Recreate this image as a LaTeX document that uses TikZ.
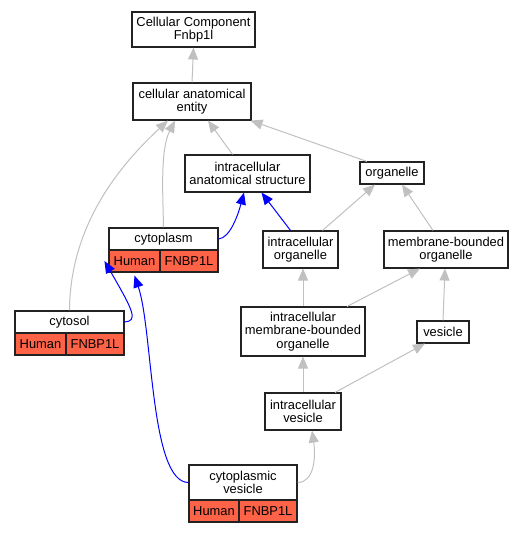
\documentclass[tikz,border=0pt]{standalone}
\usepackage{fontspec}
\setmainfont{Liberation Sans}
\usetikzlibrary{arrows.meta}
\definecolor{edgegray}{HTML}{C0C0C0}
\definecolor{cellred}{HTML}{FF6347}
\definecolor{boxline}{HTML}{222222}
\begin{document}
\begin{tikzpicture}[x=1pt,y=-1pt,
  lbl/.style={font=\fontsize{12.9}{13.4}\selectfont},
  gobox/.style={draw=boxline, line width=1.1pt, fill=white, inner sep=0pt, align=center, lbl},
  cellbox/.style={draw=boxline, line width=1.1pt, fill=cellred, inner sep=0pt, align=center, lbl, minimum height=22pt},
  isa/.style={draw=edgegray, line width=1pt, -{Triangle[length=12pt,width=10pt]}},
  part/.style={draw=blue, line width=1pt, -{Triangle[length=12pt,width=10pt]}}]
\useasboundingbox (0,0) rectangle (523,533);

% nodes
\node[gobox, minimum width=123pt, minimum height=35pt] (cc) at (193.5,29.5) {Cellular Component\\Fnbp1l};
\node[gobox, minimum width=118pt, minimum height=37pt] (cae) at (192,101.5) {cellular anatomical\\entity};
\node[gobox, minimum width=125pt, minimum height=37pt] (ias) at (247.5,173.5) {intracellular\\anatomical structure};
\node[gobox, minimum width=64pt, minimum height=22pt] (org) at (392,173) {organelle};
\node[gobox, minimum width=109pt, minimum height=22pt] (cyto) at (163.5,239) {cytoplasm};
\node[cellbox, minimum width=51pt] (cytoH) at (134.5,261) {Human};
\node[cellbox, minimum width=58pt] (cytoF) at (189,261) {FNBP1L};
\node[gobox, minimum width=75pt, minimum height=37pt] (io) at (300.5,249.5) {intracellular\\organelle};
\node[gobox, minimum width=124pt, minimum height=37pt] (mbo) at (446,249.5) {membrane-bounded\\organelle};
\node[gobox, minimum width=109pt, minimum height=22pt] (cytosol) at (69.5,322) {cytosol};
\node[cellbox, minimum width=51pt] (csH) at (40.5,344) {Human};
\node[cellbox, minimum width=58pt] (csF) at (95,344) {FNBP1L};
\node[gobox, minimum width=124pt, minimum height=49pt] (imbo) at (303,331.5) {intracellular\\membrane-bounded\\organelle};
\node[gobox, minimum width=52pt, minimum height=22pt] (ves) at (443,332) {vesicle};
\node[gobox, minimum width=76pt, minimum height=37pt] (iv) at (303,411.5) {intracellular\\vesicle};
\node[gobox, minimum width=108pt, minimum height=35pt] (cv) at (243,482.5) {cytoplasmic\\vesicle};
\node[cellbox, minimum width=50pt] (cvH) at (214,511) {Human};
\node[cellbox, minimum width=58pt] (cvF) at (268,511) {FNBP1L};

% gray is_a edges
\draw[isa] (cae.north) -- (cc.south);
\draw[isa] ([xshift=-15pt]ias.north) -- ([xshift=16pt]cae.south);
\draw[isa] ([xshift=-25pt]org.north) -- ([xshift=-1pt]cae.south east);
\draw[isa] (cyto.north) .. controls (163,195) and (160,150) .. ([xshift=-17pt]cae.south);
\draw[isa] (cytosol.north) .. controls (70,225) and (120,165) .. ([xshift=-24pt]cae.south);
\draw[isa] ([xshift=22pt]io.north) -- ([xshift=-17pt]org.south);
\draw[isa] ([xshift=-13pt]mbo.north) -- ([xshift=10pt]org.south);
\draw[isa] (imbo.north) -- (imbo.north |- io.south);
\draw[isa] ([xshift=44pt]imbo.north) -- ([xshift=-26pt]mbo.south);
\draw[isa] (ves.north) -- ([xshift=-1pt]mbo.south);
\draw[isa] (iv.north) -- (imbo.south);
\draw[isa] ([xshift=32pt]iv.north) -- ([xshift=-18pt]ves.south);
\draw[isa] (cv.east) .. controls (314,482.5) and (316,458) .. ([xshift=9pt]iv.south);

% blue part_of edges
\draw[part] ([xshift=-10pt]io.north) -- ([xshift=14pt]ias.south);
\draw[part] (cyto.east) .. controls (230,238) and (238,215) .. ([xshift=-3.5pt]ias.south);
\draw[part] (cytosol.east) .. controls (138,321) and (134,312) .. ([xshift=-4pt]cytoH.west);
\draw[part] (cv.west) .. controls (150,482.5) and (153,330) .. ([yshift=-3pt]cytoH.south);
\end{tikzpicture}
\end{document}
